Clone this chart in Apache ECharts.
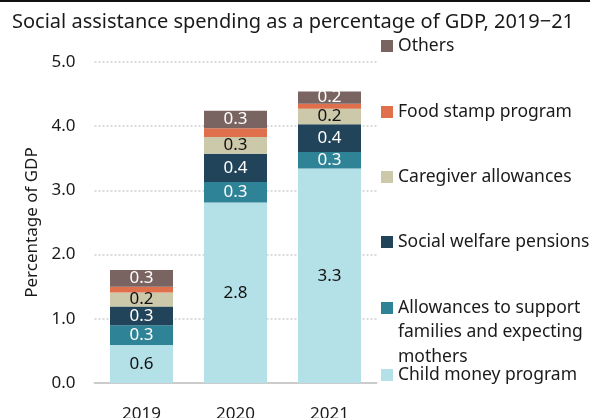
<!DOCTYPE html>
<html><head><meta charset="utf-8">
<script src="https://cdn.jsdelivr.net/npm/echarts@6/dist/echarts.min.js"></script>
<style>html,body{margin:0;padding:0;background:#fff}#c{width:590px;height:418px}</style>
</head><body><div id="c"></div>
<script>
const years = ['2019', '2020', '2021'];
const childMoney = [0.59, 2.81, 3.34];
const allowances = [0.31, 0.32, 0.26];
const welfarePensions = [0.29, 0.44, 0.43];
const caregiver = [0.22, 0.26, 0.24];
const foodStamp = [0.09, 0.14, 0.08];
const others = [0.26, 0.27, 0.19];
const yTicks = ['0.0', '1.0', '2.0', '3.0', '4.0', '5.0'];

const FONT = '"Noto Sans", "Open Sans", sans-serif';
const LH = 24.5;
const seriesDefs = [
  {name: 'Child money program', data: childMoney, color: '#b4e0e8', label: '#111', show: true},
  {name: 'Allowances to support\nfamilies and expecting\nmothers', data: allowances, color: '#2e8397', label: '#fff', show: true},
  {name: 'Social welfare pensions', data: welfarePensions, color: '#22445a', label: '#fff', show: true},
  {name: 'Caregiver allowances', data: caregiver, color: '#cbc9a9', label: '#111', show: true},
  {name: 'Food stamp program', data: foodStamp, color: '#e0704c', label: '#fff', show: false},
  {name: 'Others', data: others, color: '#7a6462', label: '#fff', show: true}
];
const legendCenters = [375, 308, 242, 177, 112, 46];
const chart = echarts.init(document.getElementById('c'), null, {renderer: 'canvas'});
chart.setOption({
  animation: false,
  title: {text: 'Social assistance spending as a percentage of GDP, 2019\u221221', left: 7, top: 7,
    textStyle: {fontFamily: FONT, fontSize: 20, fontWeight: 'normal', color: '#1a1a1a'}},
  graphic: [{type: 'rect', shape: {x: 0, y: 0, width: 590, height: 2}, style: {fill: '#111'}}],
  legend: seriesDefs.map((s, i) => {
    const lines = s.name.split('\n').length;
    const extra = (lines - 1) * LH;
    const h = 12 + extra;
    return {
      data: [s.name], left: 381, top: legendCenters[i] - LH / 2, orient: 'vertical',
      padding: 0, itemWidth: 12, itemHeight: h, itemGap: 0,
      icon: 'path://M0,0L12,0L12,12L0,12Z M0,' + h + 'L0,' + h,
      textStyle: {fontFamily: FONT, fontSize: 17.5, color: '#1a1a1a', lineHeight: LH},
      selectedMode: false
    };
  }),
  grid: {left: 94.5, right: 213.5, top: 62, bottom: 35, outerBoundsMode: 'none', containLabel: false},
  xAxis: {type: 'category', data: years,
    axisLine: {lineStyle: {color: '#cccccc', width: 2}}, axisTick: {show: false},
    axisLabel: {fontFamily: FONT, fontSize: 17, color: '#1a1a1a', margin: 23}},
  yAxis: {type: 'value', min: 0, max: 5, interval: 1,
    name: 'Percentage of GDP', nameLocation: 'middle', nameGap: 54,
    nameTextStyle: {fontFamily: FONT, fontSize: 17, color: '#1a1a1a'},
    axisLabel: {fontFamily: FONT, fontSize: 17, color: '#1a1a1a', margin: 19,
      formatter: v => yTicks[Math.round(v)]},
    splitLine: {lineStyle: {color: '#cfcfcf', type: [2, 2], width: 1.5}}},
  series: seriesDefs.map(s => ({
    name: s.name, type: 'bar', stack: 'total', barWidth: 63,
    data: s.data, itemStyle: {color: s.color},
    label: {show: s.show, position: 'inside', fontFamily: FONT, fontSize: 17, color: s.label,
      formatter: p => p.value.toFixed(1)}
  }))
});
</script></body></html>
